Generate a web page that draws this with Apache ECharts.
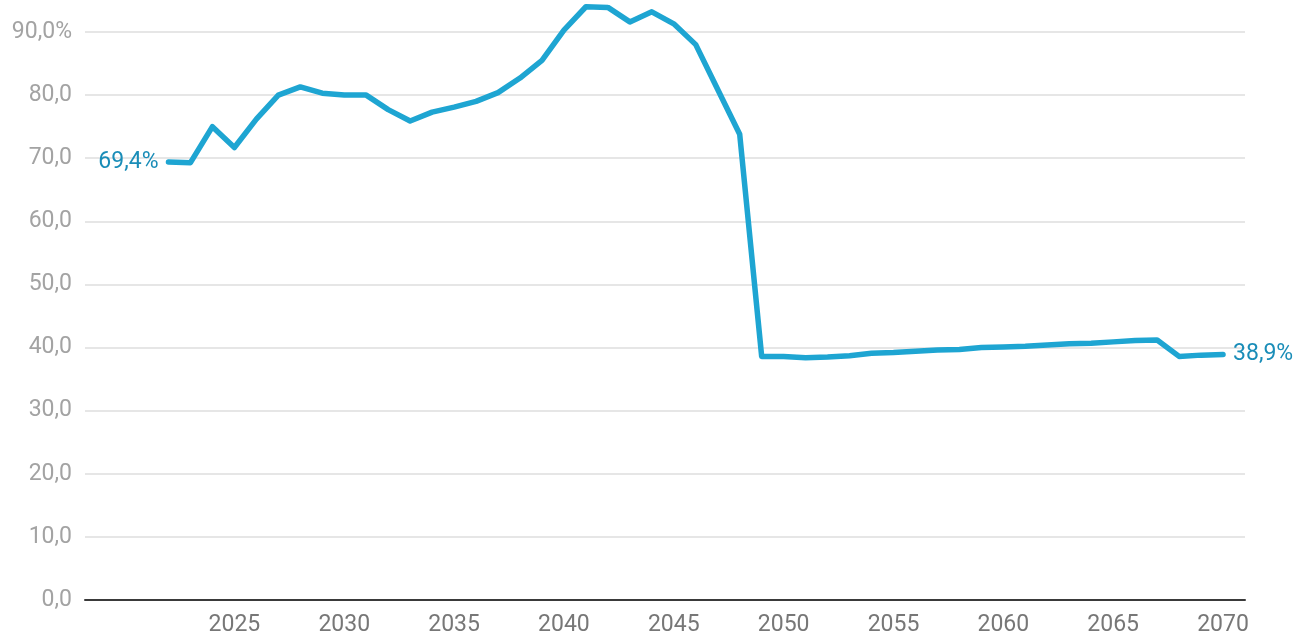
<!DOCTYPE html>
<html><head><meta charset="utf-8">
<script src="https://cdn.jsdelivr.net/npm/echarts@6/dist/echarts.min.js"></script>
<style>html,body{margin:0;padding:0;background:#fff}#c{width:1297px;height:637px}</style>
</head><body><div id="c"></div>
<script>
const years = [2022,2023,2024,2025,2026,2027,2028,2029,2030,2031,2032,2033,2034,2035,2036,2037,2038,2039,2040,2041,2042,2043,2044,2045,2046,2047,2048,2049,2050,2051,2052,2053,2054,2055,2056,2057,2058,2059,2060,2061,2062,2063,2064,2065,2066,2067,2068,2069,2070];
const values = [69.4,69.3,75.0,71.7,76.2,80.0,81.3,80.3,80.0,80.0,77.7,75.9,77.3,78.1,79.0,80.4,82.7,85.5,90.3,94.0,93.9,91.6,93.2,91.3,88.0,80.9,73.8,38.6,38.6,38.4,38.5,38.7,39.1,39.2,39.4,39.6,39.7,40.0,40.1,40.2,40.4,40.6,40.7,40.9,41.1,41.2,38.6,38.8,38.9];
const xTicks = [2025,2030,2035,2040,2045,2050,2055,2060,2065,2070];
const yTicks = [0,10,20,30,40,50,60,70,80,90];

const fmt = v => v.toFixed(1).replace('.', ',');
const data = years.map((y,i)=>{
  const p = {value:[y, values[i]]};
  if (i===0) p.label = {show:true, position:'left', distance:10, formatter: fmt(values[i])+'%'};
  else if (i===years.length-1) p.label = {show:true, position:'right', distance:10, formatter: fmt(values[i])+'%'};
  else p.label = {show:false};
  return p;
});

const chart = echarts.init(document.getElementById('c'));
chart.setOption({
  animation:false,
  grid:{left:85, right:52, top:32, bottom:37, containLabel:false, outerBoundsMode:'none'},
  xAxis:{
    type:'value', min:2018.2, max:2071,
    axisLine:{show:true, lineStyle:{color:'#3a3a3a', width:2}},
    axisTick:{show:false},
    splitLine:{show:false},
    axisLabel:{customValues:xTicks, color:'#777', fontSize:23, fontFamily:'Roboto', margin:14, formatter: v=>String(v)}
  },
  yAxis:{
    type:'value', min:0, max:90, interval:10,
    axisLine:{show:false}, axisTick:{show:false},
    splitLine:{lineStyle:{color:'#e6e6e6', width:2}},
    axisLabel:{color:'#a3a3a3', fontSize:23, fontFamily:'Roboto', margin:13,
      formatter: v => v===90 ? fmt(v)+'%' : fmt(v)}
  },
  series:[{
    type:'line', data:data, clip:false, showSymbol:true, symbol:'circle', symbolSize:0,
    lineStyle:{color:'#1ea5d2', width:5.5, join:'round', cap:'round'},
    itemStyle:{color:'#1ea5d2'},
    label:{show:false, color:'#1a8db8', fontSize:23, fontFamily:'Roboto'}
  }]
});
</script></body></html>
